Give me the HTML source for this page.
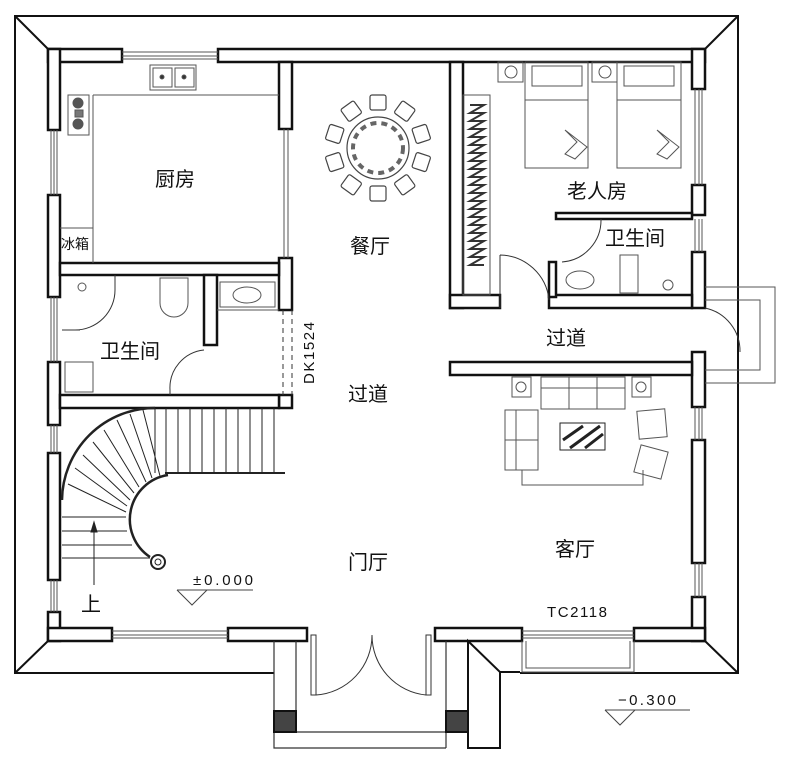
<!DOCTYPE html>
<html><head><meta charset="utf-8"><style>
html,body{margin:0;padding:0;background:#fff;}
svg{display:block}
text{font-family:"Liberation Sans","Noto Sans CJK SC",sans-serif;fill:#111}
</style></head><body>
<svg width="789" height="764" viewBox="0 0 789 764" xmlns="http://www.w3.org/2000/svg">
<g fill="none" stroke="#111" stroke-width="2">
<path d="M274,673 L15,673 L15,16 L738,16 L738,673 L520,673"/>
<path d="M15,16 L48,49 M738,16 L705,49 M15,673 L48,641 M738,673 L705,641"/>
</g>
<g fill="#fff" stroke="#111" stroke-width="2.5">
<rect x="48" y="49" width="74" height="13"/>
<rect x="218" y="49" width="487" height="13"/>
<rect x="48" y="49" width="12" height="81"/>
<rect x="48" y="195" width="12" height="102"/>
<rect x="48" y="362" width="12" height="63"/>
<rect x="48" y="453" width="12" height="127"/>
<rect x="48" y="612" width="12" height="29"/>
<rect x="692" y="49" width="13" height="40"/>
<rect x="692" y="185" width="13" height="30"/>
<rect x="692" y="252" width="13" height="56"/>
<rect x="692" y="352" width="13" height="55"/>
<rect x="692" y="440" width="13" height="123"/>
<rect x="692" y="597" width="13" height="44"/>
<rect x="48" y="628" width="64" height="13"/>
<rect x="228" y="628" width="79" height="13"/>
<rect x="435" y="628" width="87" height="13"/>
<rect x="634" y="628" width="71" height="13"/>
<rect x="279" y="62" width="13" height="67"/>
<rect x="279" y="258" width="13" height="52"/>
<rect x="279" y="395" width="13" height="13"/>
<rect x="60" y="263" width="219" height="12"/>
<rect x="204" y="275" width="13" height="70"/>
<rect x="60" y="395" width="219" height="13"/>
<rect x="450" y="62" width="13" height="246"/>
<rect x="450" y="295" width="50" height="13"/>
<rect x="549" y="295" width="143" height="13"/>
<rect x="556" y="213" width="136" height="6"/>
<rect x="549" y="262" width="7" height="35"/>
<rect x="450" y="362" width="242" height="13"/>
</g>
<g stroke="#555" stroke-width="1" fill="none">
<path d="M122,52 H218 M122,56 H218 M122,59 H218"/>
<path d="M51,130 V195 M54,130 V195 M57,130 V195"/>
<path d="M51,297 V362 M54,297 V362 M57,297 V362"/>
<path d="M51,425 V453 M54,425 V453 M57,425 V453"/>
<path d="M51,580 V612 M54,580 V612 M57,580 V612"/>
<path d="M695,89 V185 M699,89 V185 M702,89 V185"/>
<path d="M695,219 V252 M699,219 V252 M702,219 V252"/>
<path d="M695,407 V440 M699,407 V440 M702,407 V440"/>
<path d="M695,563 V597 M699,563 V597 M702,563 V597"/>
<path d="M112,631 H228 M112,635 H228 M112,638 H228"/>
<path d="M522,631 H634 M522,635 H634 M522,638 H634"/>
<path d="M526,641 V668 H630 V641 M522,641 V672 H634 V641"/>
<path d="M284,129 V258 M288,129 V258"/>
<path d="M705,287 H775 V383 H705 M705,300 H760 V370 H705"/>
</g>
<g fill="none" stroke="#333" stroke-width="1">
<path d="M705,308 A44,44 0 0 1 740,352"/>
<path d="M500,255 V308 M500,255 A50,50 0 0 1 549,300"/>
<path d="M601,219 A42,42 0 0 1 562,262"/>
<path d="M170,390 A38,38 0 0 1 204,350 M170,390 V395"/>
<path d="M62,330 H80 M115,275 V290 A40,40 0 0 1 75,330"/>
<path d="M311,635 V695 H316 V635 Z M426,635 V695 H431 V635 Z"/>
<path d="M316,695 A60,60 0 0 0 372,635 M426,695 A60,60 0 0 1 372,635"/>
<path d="M283,310 V395 M292,310 V395" stroke-dasharray="5,4"/>
</g>
<g fill="none" stroke="#333" stroke-width="1.2">
<path d="M274,641 V748 H446 M296,641 V732 H446 M274,732 H296"/>
<path d="M446,641 V748"/>
</g>
<path d="M468,641 L500,672 V748 H468 Z" fill="#fff" stroke="#111" stroke-width="2"/>
<path d="M500,672 H520" stroke="#111" stroke-width="2"/>
<rect x="274" y="711" width="22" height="21" fill="#444" stroke="#111" stroke-width="2"/>
<rect x="446" y="711" width="22" height="21" fill="#444" stroke="#111" stroke-width="2"/>
<g fill="none" stroke="#555" stroke-width="1">
<rect x="150" y="65" width="46" height="25"/><rect x="153" y="68" width="19" height="19"/><rect x="175" y="68" width="19" height="19"/>
<circle cx="162" cy="77" r="2" fill="#333"/><circle cx="184" cy="77" r="2" fill="#333"/>
<rect x="68" y="95" width="21" height="40"/><circle cx="78" cy="103" r="5" fill="#555"/><circle cx="78" cy="124" r="5" fill="#555"/><rect x="75" y="110" width="8" height="7" fill="#777"/>
<path d="M93,95 H279 M93,95 V263 M60,228 H93"/>
<rect x="65" y="362" width="28" height="30"/>
<path d="M160,278 h28 v25 a14,14 0 0 1 -28,0 z"/>
<path d="M217,310 H279 M220,282 h55 v25 h-55z"/><ellipse cx="247" cy="295" rx="14" ry="8"/>
<circle cx="82" cy="287" r="4"/>
</g>
<rect x="463" y="95" width="27" height="200" fill="none" stroke="#555" stroke-width="1"/>
<path d="M470,105 l14,0 l-14,8 l14,0 l-14,8 l14,0 l-14,8 l14,0 l-14,8 l14,0 l-14,8 l14,0 l-14,8 l14,0 l-14,8 l14,0 l-14,8 l14,0 l-14,8 l14,0 l-14,8 l14,0 l-14,8 l14,0 l-14,8 l14,0 l-14,8 l14,0 l-14,8 l14,0 l-14,8 l14,0 l-14,8 l14,0 l-14,8 l14,0 l-14,8 l14,0 l-14,8 l14,0 l-14,8 l14,0" fill="none" stroke="#333" stroke-width="2"/>
<g fill="none" stroke="#555" stroke-width="1">
<rect x="525" y="62" width="63" height="106"/><rect x="532" y="66" width="50" height="20"/><path d="M525,100 H588"/>
<rect x="617" y="62" width="64" height="106"/><rect x="624" y="66" width="50" height="20"/><path d="M617,100 H681"/>
<rect x="498" y="62" width="25" height="20"/><circle cx="511" cy="72" r="6"/>
<rect x="592" y="62" width="25" height="20"/><circle cx="605" cy="72" r="6"/>
<path d="M565,130 l12,12 l-12,12 l10,5 l12,-12z M657,130 l12,12 l-12,12 l10,5 l12,-12z"/>
<path d="M620,255 h18 v38 h-18z"/><ellipse cx="580" cy="280" rx="14" ry="9"/>
<circle cx="668" cy="285" r="5"/>
</g>
<g fill="none" stroke="#444" stroke-width="1.2">
<circle cx="378" cy="148" r="31"/><circle cx="378" cy="148" r="25" stroke-dasharray="6,5" stroke-width="4" stroke="#666"/>
<g id="ch"><rect x="370" y="95" width="16" height="15" rx="2"/></g>
<use href="#ch" transform="rotate(36 378 148)"/><use href="#ch" transform="rotate(72 378 148)"/>
<use href="#ch" transform="rotate(108 378 148)"/><use href="#ch" transform="rotate(144 378 148)"/>
<use href="#ch" transform="rotate(180 378 148)"/><use href="#ch" transform="rotate(216 378 148)"/>
<use href="#ch" transform="rotate(252 378 148)"/><use href="#ch" transform="rotate(288 378 148)"/>
<use href="#ch" transform="rotate(324 378 148)"/>
</g>
<g fill="none" stroke="#555" stroke-width="1">
<rect x="512" y="377" width="19" height="20"/><circle cx="521" cy="387" r="5"/>
<rect x="632" y="377" width="19" height="20"/><circle cx="641" cy="387" r="5"/>
<rect x="541" y="377" width="84" height="32"/><path d="M541,388 H625 M569,377 V409 M597,377 V409"/>
<rect x="505" y="410" width="33" height="60"/><path d="M516,410 V470 M505,440 H538"/>
<path d="M522,470 V485 H643 V470"/>
<rect x="560" y="423" width="45" height="27" stroke="#222"/>
<path d="M563,440 l20,-14 M570,448 l30,-22 M585,448 l18,-14" stroke="#222" stroke-width="3"/>
<rect x="638" y="410" width="28" height="28" transform="rotate(-5 652 424)"/>
<rect x="637" y="448" width="28" height="28" transform="rotate(15 651 462)"/>
</g>
<g fill="none" stroke="#222" stroke-width="1">
<path d="M155,408 V473 M166,408 V473 M178,408 V473 M190,408 V473 M202,408 V473 M214,408 V473 M226,408 V473 M238,408 V473 M250,408 V473 M262,408 V473 M274,408 V473"/>
<path d="M165,473 H285" stroke-width="2"/>
<path d="M155,408 A93,93 0 0 0 62,500" stroke-width="2.5"/>
<path d="M168,475 A45,45 0 0 0 150,557" stroke-width="2.5"/>
<path d="M62,517 H126 M62,531 H127 M62,545 H132 M62,558 H150"/>
<path d="M143,410 L160,476 M130,414 L152,478 M117,420 L146,482 M104,430 L139,487 M93,442 L134,493 M83,455 L130,500 M75,468 L127,506 M68,484 L126,512"/>
<circle cx="158" cy="562" r="7" stroke-width="2"/><circle cx="158" cy="562" r="3"/>
<path d="M94,523 V585"/><path d="M91,532 L94,522 L97,532Z" fill="#222"/>
</g>
<g fill="none" stroke="#444" stroke-width="1">
<path d="M177,590 H253 M177,590 L192,605 L207,590"/>
<path d="M605,710 H690 M605,710 L620,725 L635,710"/>
</g>
<g font-size="20">
<text x="155" y="186">厨房</text>
<text x="350" y="253">餐厅</text>
<text x="567" y="198">老人房</text>
<text x="605" y="245">卫生间</text>
<text x="100" y="358">卫生间</text>
<text x="546" y="345">过道</text>
<text x="348" y="401">过道</text>
<text x="555" y="556">客厅</text>
<text x="348" y="569">门厅</text>
<text x="81" y="611">上</text>
</g>
<text x="61" y="249" font-size="14" fill="#333">冰箱</text>
<g font-size="15" style="fill:#444">
<text x="193" y="585" textLength="60">±0.000</text>
<text x="547" y="617" textLength="60">TC2118</text>
<text x="618" y="705" textLength="58">−0.300</text>
<text transform="translate(314,384) rotate(-90)" textLength="62">DK1524</text>
</g>
</svg>
</body></html>
